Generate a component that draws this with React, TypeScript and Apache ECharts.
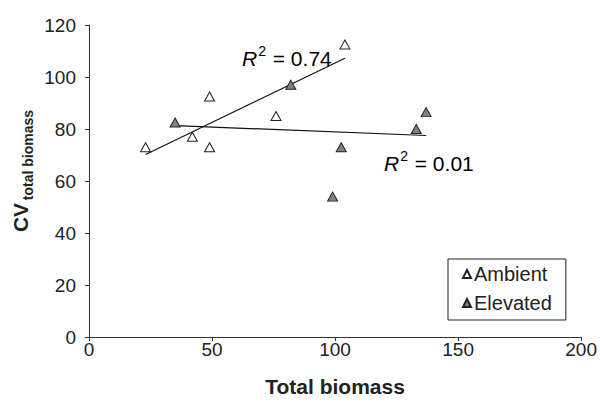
import React, { useEffect, useRef } from "react";
import * as echarts from "echarts";

const ambientX = [23, 42, 49, 49, 76, 104];
const ambientY = [73, 77, 92.5, 73, 85, 112.5];
const elevatedX = [35, 82, 102.5, 99, 133, 137];
const elevatedY = [82.5, 97, 73, 54, 80, 86.5];
// trend line end points
const ambientTrendX = [23, 104];
const ambientTrendY = [70.2, 107.2];
const elevatedTrendX = [35, 137];
const elevatedTrendY = [81.3, 77.5];
const xTicks = [0, 50, 100, 150, 200];
const yTicks = [0, 20, 40, 60, 80, 100, 120];
const ambientR2 = "0.74";
const elevatedR2 = "0.01";

const FONT = "'Liberation Sans', Arial, Helvetica, sans-serif";

const zip = (xs: number[], ys: number[]) => xs.map((x, i) => [x, ys[i]]);

export default function App() {
  const ref = useRef<HTMLDivElement>(null);
  useEffect(() => {
    if (!ref.current) return;
    const chart = echarts.init(ref.current, undefined, { renderer: "svg" });
    const r2Rich = {
      r: { fontSize: 21, fontStyle: "italic", lineHeight: 28, fontFamily: FONT, color: "#222" },
      s: { fontSize: 14, lineHeight: 14, verticalAlign: "top", fontFamily: FONT, color: "#222", padding: [0, 1, 0, 1] },
      t: { fontSize: 21, lineHeight: 28, fontFamily: FONT, color: "#222" },
    };
    chart.setOption({
      animation: false,
      textStyle: { fontFamily: FONT },
      grid: { left: 89, right: 18, top: 25, bottom: 60 },
      xAxis: {
        type: "value",
        min: xTicks[0],
        max: xTicks[xTicks.length - 1],
        interval: xTicks[1] - xTicks[0],
        name: "Total biomass",
        nameLocation: "middle",
        nameGap: 39,
        nameTextStyle: { fontSize: 21, fontWeight: "bold", color: "#222", fontFamily: FONT },
        axisLine: { lineStyle: { color: "#333", width: 1 } },
        axisTick: { show: true, length: 4, inside: false, lineStyle: { color: "#333" } },
        axisLabel: { fontSize: 19, color: "#222", margin: 3, fontFamily: FONT },
        splitLine: { show: false },
      },
      yAxis: {
        type: "value",
        min: yTicks[0],
        max: yTicks[yTicks.length - 1],
        interval: yTicks[1] - yTicks[0],
        axisLine: { show: true, lineStyle: { color: "#333", width: 1 } },
        axisTick: { show: true, length: 4, inside: false, lineStyle: { color: "#333" } },
        axisLabel: { fontSize: 19, color: "#222", margin: 13, fontFamily: FONT },
        splitLine: { show: false },
      },
      legend: {
        left: 448,
        top: 259,
        orient: "vertical",
        data: ["Ambient", "Elevated"],
        borderColor: "#222",
        borderWidth: 1,
        padding: [5, 14, 7, 14],
        itemGap: 9,
        itemWidth: 8,
        itemHeight: 8,
        textStyle: { fontSize: 20, lineHeight: 20, color: "#222", fontFamily: FONT, padding: [0, 0, 0, -2] },
      },
      series: [
        {
          name: "Ambient",
          type: "scatter",
          symbol: "triangle",
          symbolSize: [10, 9],
          itemStyle: { color: "#ffffff", borderColor: "#222", borderWidth: 1, opacity: 1 },
          data: zip(ambientX, ambientY),
          z: 3,
        },
        {
          name: "Elevated",
          type: "scatter",
          symbol: "triangle",
          symbolSize: [10, 9],
          itemStyle: { color: "#828282", borderColor: "#222", borderWidth: 1, opacity: 1 },
          data: zip(elevatedX, elevatedY),
          z: 3,
        },
        {
          name: "Ambient trend",
          type: "line",
          showSymbol: false,
          symbol: "none",
          lineStyle: { color: "#111", width: 1.2 },
          data: zip(ambientTrendX, ambientTrendY),
          z: 2,
        },
        {
          name: "Elevated trend",
          type: "line",
          showSymbol: false,
          symbol: "none",
          lineStyle: { color: "#111", width: 1.2 },
          data: zip(elevatedTrendX, elevatedTrendY),
          z: 2,
        },
      ],
      graphic: [
        {
          type: "text",
          x: 242,
          y: 58,
          style: {
            text: `{r|R}{s|2}{t| = ${ambientR2}}`,
            rich: r2Rich,
            align: "left",
            verticalAlign: "middle",
          },
        },
        {
          type: "text",
          x: 384,
          y: 163,
          style: {
            text: `{r|R}{s|2}{t| = ${elevatedR2}}`,
            rich: r2Rich,
            align: "left",
            verticalAlign: "middle",
          },
        },
        {
          type: "text",
          x: 20,
          y: 217.5,
          rotation: Math.PI / 2,
          style: {
            text: "CV",
            fontSize: 21,
            fontWeight: "bold",
            fontFamily: FONT,
            fill: "#222",
            align: "center",
            verticalAlign: "middle",
          },
        },
        {
          type: "text",
          x: 27.5,
          y: 155,
          rotation: Math.PI / 2,
          style: {
            text: "total biomass",
            fontSize: 14,
            fontWeight: "bold",
            fontFamily: FONT,
            fill: "#222",
            align: "center",
            verticalAlign: "middle",
          },
        },
      ],
    });
    return () => chart.dispose();
  }, []);
  return <div ref={ref} style={{ width: 600, height: 402, position: "absolute", left: 0, top: 0 }} />;
}
